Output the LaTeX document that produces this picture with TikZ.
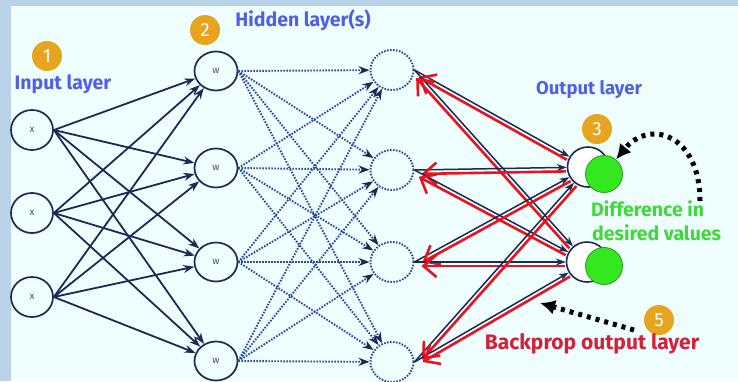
\documentclass[tikz,border=0pt]{standalone}
\usepackage{fontspec}
\setmainfont{Fira Sans}
\usetikzlibrary{arrows.meta,shapes.geometric,calc}
\definecolor{outerbg}{HTML}{B9D3E9}
\definecolor{innerbg}{HTML}{EFFEFE}
\definecolor{navy}{HTML}{1B2A55}
\definecolor{dotblue}{HTML}{2A4AA0}
\definecolor{labblue}{HTML}{4F5FE6}
\definecolor{labgreen}{HTML}{3FDA3A}
\definecolor{labred}{HTML}{D3213A}
\definecolor{badgeor}{HTML}{E6A41F}
\definecolor{arrred}{HTML}{E8131E}
\definecolor{ballgreen}{HTML}{33E81E}
\definecolor{balledge}{HTML}{2A9A1A}
\begin{document}
\begin{tikzpicture}[x=1pt,y=-1pt,
  neuron/.style={ellipse,draw=navy,line width=1.7pt,inner sep=0pt,minimum width=42pt,minimum height=40pt,font=\fontsize{10}{10}\selectfont,text=navy!80},
  hidnode/.style={ellipse,draw=dotblue,line width=1.9pt,dash pattern=on 1.6pt off 1.4pt,inner sep=0pt,minimum width=43pt,minimum height=40pt},
  outnode/.style={ellipse,draw=navy,line width=1.6pt,fill=white,inner sep=0pt,minimum width=41pt,minimum height=40pt},
  ball/.style={circle,draw=balledge,line width=0.8pt,fill=ballgreen,inner sep=0pt,minimum size=37pt},
  badge/.style={circle,fill=badgeor,text=white,inner sep=0pt,minimum size=30pt,font=\fontsize{19}{19}\selectfont},
  lab/.style={font=\fontsize{19.5}{21}\selectfont\bfseries,inner sep=0pt},
  solidarr/.style={draw=navy,line width=1.8pt,-{Stealth[length=11pt,width=8pt]}},
  dotarr/.style={draw=dotblue,line width=1.9pt,dash pattern=on 1.6pt off 1.4pt,-{Stealth[length=11pt,width=8pt,fill=navy,color=navy]}},
  fwdarr/.style={draw=navy,line width=1.5pt,-{Stealth[length=10pt,width=7pt]}},
  redarr/.style={draw=arrred,line width=2.6pt,-{Straight Barb[length=13pt,width=22pt]}},
  blkarr/.style={draw=black,line width=5pt,dash pattern=on 4pt off 5pt,-{Latex[length=15pt,width=15pt]}}
]
\useasboundingbox (0,0) rectangle (738,381);
\fill[outerbg] (0,0) rectangle (738,381);
\fill[innerbg] (11,6) rectangle (738,381);

% input layer
\node[neuron] (x1) at (32,130) {x};
\node[neuron] (x2) at (32,213) {x};
\node[neuron] (x3) at (32,297) {x};
% hidden layer 1
\node[neuron,minimum width=43pt,minimum height=39pt] (w1) at (216,71) {w};
\node[neuron,minimum width=43pt,minimum height=39pt] (w2) at (216,168) {w};
\node[neuron,minimum width=43pt,minimum height=39pt] (w3) at (216,262) {w};
\node[neuron,minimum width=43pt,minimum height=39pt] (w4) at (216,361) {w};
% hidden layer 2
\node[hidnode] (h1) at (392,70) {};
\node[hidnode] (h2) at (392,170) {};
\node[hidnode] (h3) at (392,262) {};
\node[hidnode] (h4) at (392,362) {};

% input -> hidden 1
\foreach \i in {1,2,3}{
  \foreach \j in {1,2,3,4}{
    \draw[solidarr] (x\i.east) -- (w\j);
  }
}
% hidden 1 -> hidden 2
\foreach \i in {1,2,3,4}{
  \foreach \j in {1,2,3,4}{
    \draw[dotarr] (w\i.east) -- (h\j);
  }
}

% output layer
\node[outnode] (o1) at (588,167) {};
\node[outnode] (o2) at (587,262) {};
\node[ball] (g1) at (604,174) {};
\node[ball] (g2) at (604,266) {};

% forward and back arrows
\foreach \i in {1,2,3,4}{
  \foreach \j in {1,2}{
    \draw[fwdarr] (h\i.east) -- (o\j);
    \coordinate (s\i\j) at ($(o\j)!22pt!(h\i.east)$);
    \coordinate (e\i\j) at ($(h\i.east)!7pt!(o\j)$);
    \draw[redarr] ($(s\i\j)!4pt!90:(e\i\j)$) -- ($(e\i\j)!4pt!-90:(s\i\j)$);
  }
}

% badges
\node[badge] (b1) at (47,56) {1};
\node[badge] (b2) at (205,30) {2};
\node[badge] (b3) at (597,129) {3};
\node[badge] (b5) at (659,320) {5};

% labels
\node[lab,text=labblue] (tin) at (63,84) {Input layer};
\node[lab,text=labblue] (thid) at (303,20) {Hidden layer(s)};
\node[lab,text=labblue,font=\fontsize{18.5}{20}\selectfont\bfseries] (tout) at (589,90) {Output layer};
\node[lab,text=labgreen,anchor=west] (tdiff1) at (591,209) {Difference in};
\node[lab,text=labgreen,anchor=west] (tdiff2) at (592,233) {desired values};
\node[lab,text=labred,font=\fontsize{21}{23}\selectfont\bfseries] (tback) at (592,344) {Backprop output layer};

% black dotted arrows
\coordinate (c1) at (700,201);
\draw[blkarr] (c1) .. controls (700,135) and (650,118) .. (g1);
\coordinate (c2) at (634,330);
\coordinate (c3) at (540,303);
\draw[blkarr] (c2) -- (c3);
\end{tikzpicture}
\end{document}
